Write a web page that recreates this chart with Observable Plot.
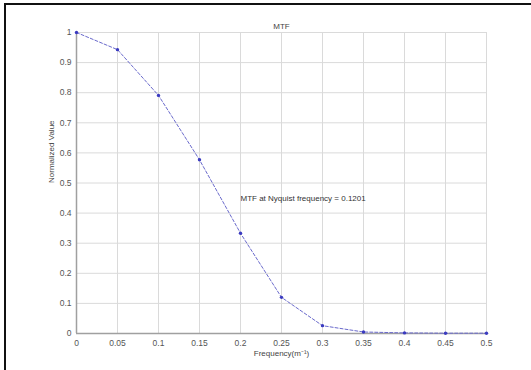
<!DOCTYPE html>
<html>
<head>
<meta charset="utf-8">
<script src="https://cdn.jsdelivr.net/npm/d3@7"></script>
<script src="https://cdn.jsdelivr.net/npm/@observablehq/plot@0.6"></script>
<style>
  html, body { margin: 0; padding: 0; background: #fff; }
  #wrap { position: relative; width: 531px; height: 370px; overflow: hidden; }
  #frameL { position: absolute; left: 4px; top: 3px; width: 2px; height: 367px; background: #111; }
  #frameT { position: absolute; left: 4px; top: 3px; width: 527px; height: 2px; background: #111; }
</style>
</head>
<body>
<div id="wrap"><div id="frameL"></div><div id="frameT"></div></div>
<script>
const frequency = [0, 0.05, 0.1, 0.15, 0.2, 0.25, 0.3, 0.35, 0.4, 0.45, 0.5];
const mtfValues = [1.0, 0.943, 0.791, 0.577, 0.333, 0.1201, 0.026, 0.005, 0.002, 0.001, 0.001];
const xTicks = [0, 0.05, 0.1, 0.15, 0.2, 0.25, 0.3, 0.35, 0.4, 0.45, 0.5];
const yTicks = [0, 0.1, 0.2, 0.3, 0.4, 0.5, 0.6, 0.7, 0.8, 0.9, 1];
const titleText = "MTF";
const xLabel = "Frequency(m\u207B\u00B9)";
const yLabel = "Normalized Value";
const annotation = "MTF at Nyquist frequency = 0.1201";

const data = frequency.map((f, i) => ({f, v: mtfValues[i]}));
const fmt = d => String(+d.toFixed(2));

const chart = Plot.plot({
  width: 531,
  height: 370,
  marginLeft: 76,
  marginRight: 45,
  marginTop: 32,
  marginBottom: 37,
  style: {fontFamily: "Liberation Sans, Arial, sans-serif", fontSize: "8.5px", background: "transparent"},
  x: {domain: [0, 0.5], axis: null},
  y: {domain: [0, 1], axis: null},
  marks: [
    Plot.gridX(xTicks, {stroke: "#dadada", strokeOpacity: 1, strokeWidth: 1}),
    Plot.gridY(yTicks, {stroke: "#dadada", strokeOpacity: 1, strokeWidth: 1}),
    Plot.ruleX([0], {stroke: "#a0a0a0", strokeWidth: 1.5}),
    Plot.ruleY([0], {stroke: "#a0a0a0", strokeWidth: 1.5}),
    Plot.axisX(xTicks, {tickSize: 0, tickPadding: 6, tickFormat: fmt, fill: "#555", fontSize: 8.5, label: null}),
    Plot.axisY(yTicks, {tickSize: 0, tickPadding: 5, tickFormat: fmt, fill: "#555", fontSize: 8.5, label: null}),
    Plot.line(data, {x: "f", y: "v", stroke: "#6a6acc", strokeWidth: 1, strokeDasharray: "3,2"}),
    Plot.dot(data, {x: "f", y: "v", r: 1.7, fill: "#3a3ac0", stroke: "none"}),
    Plot.text([annotation], {x: 0.2, y: 0.45, text: d => d, textAnchor: "start", fill: "#333", fontSize: 8}),
    Plot.text([titleText], {frameAnchor: "top", dy: -9, text: d => d, fill: "#444", fontSize: 8}),
    Plot.text([xLabel], {frameAnchor: "bottom", dy: 22, text: d => d, fill: "#444", fontSize: 8}),
    Plot.text([yLabel], {frameAnchor: "left", dx: -25, rotate: -90, text: d => d, fill: "#444", fontSize: 8})
  ]
});
document.getElementById("wrap").appendChild(chart);
chart.style.position = "absolute";
chart.style.left = "0";
chart.style.top = "0";
</script>
</body>
</html>
